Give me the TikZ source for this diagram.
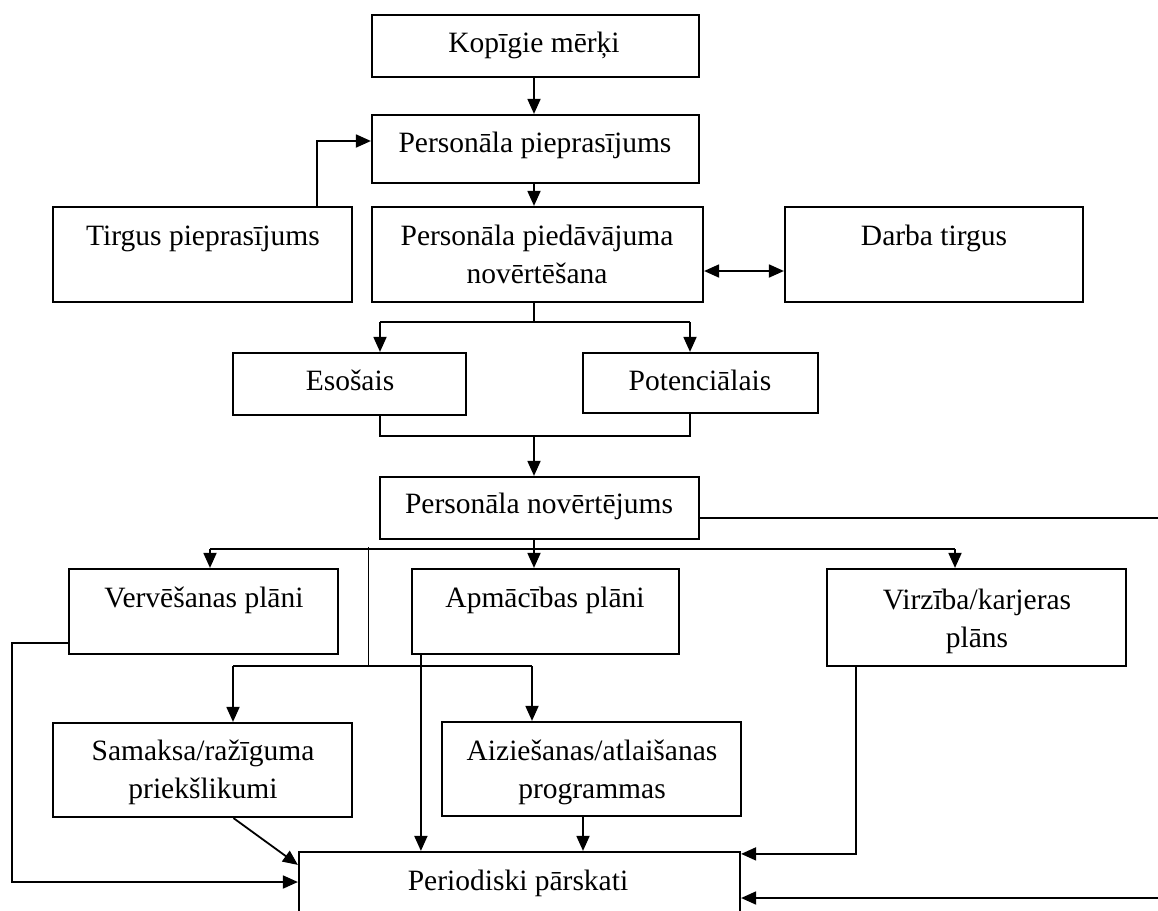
\documentclass[tikz,border=0pt]{standalone}
\usepackage{fontspec}
\setmainfont{Liberation Serif}
\usetikzlibrary{arrows.meta,calc,fit}
\begin{document}
\begin{tikzpicture}[x=1pt,y=-1pt,
  box/.style={draw,line width=2.2pt,inner sep=0pt},
  lbl/.style={font=\fontsize{29.5}{38}\selectfont,align=center,inner sep=0pt,anchor=base},
  con/.style={line width=1.8pt},
  thinline/.style={line width=1pt},
  tip/.tip={Triangle[length=15pt,width=13pt]},
  arr/.style={con,-tip},
  darr/.style={con,tip-tip}]
\useasboundingbox (0,0) rectangle (1158,910);
\clip (0,0) rectangle (1158,910);
\fill[white] (0,0) rectangle (1158,910);

% boxes
\node[box,fit={(372,15) (699,77)}] (kop) {};
\node[box,fit={(372,115) (699,183)}] (pp) {};
\node[box,fit={(53,207) (352,302)}] (tp) {};
\node[box,fit={(372,207) (703,302)}] (ppn) {};
\node[box,fit={(785,207) (1083,302)}] (dt) {};
\node[box,fit={(233,353) (466,415)}] (eso) {};
\node[box,fit={(583,353) (818,413)}] (pot) {};
\node[box,fit={(380,477) (699,539)}] (pn) {};
\node[box,fit={(69,569) (338,654)}] (verv) {};
\node[box,fit={(412,569) (679,654)}] (apm) {};
\node[box,fit={(827,569) (1126,666)}] (virz) {};
\node[box,fit={(53,723) (352,817)}] (sam) {};
\node[box,fit={(442,722) (741,816)}] (aiz) {};
\node[box,fit={(299,852) (740,960)}] (per) {};

% labels (anchor=base: baseline of the last line)
\node[lbl] (kopT) at (534,52) {Kopīgie mērķi};
\node[lbl] (ppT) at (535,152) {Personāla pieprasījums};
\node[lbl] (tpT) at (203,245) {Tirgus pieprasījums};
\node[lbl] (ppnT) at (537,283) {Personāla piedāvājuma\\novērtēšana};
\node[lbl] (dtT) at (934,245) {Darba tirgus};
\node[lbl] (esoT) at (350,390) {Esošais};
\node[lbl] (potT) at (700,390) {Potenciālais};
\node[lbl] (pnT) at (539,513) {Personāla novērtējums};
\node[lbl] (vervT) at (204,607) {Vervēšanas plāni};
\node[lbl] (apmT) at (545,607) {Apmācības plāni};
\node[lbl] (virzT) at (977,647) {Virzība/karjeras\\plāns};
\node[lbl] (samT) at (203,798) {Samaksa/ražīguma\\priekšlikumi};
\node[lbl] (aizT) at (592,798) {Aiziešanas/atlaišanas\\programmas};
\node[lbl] (perT) at (518,890) {Periodiski pārskati};

% connectors
\coordinate (c0) at (534,0);
\draw[arr] (c0 |- kop.south) -- (c0 |- pp.north);
\draw[arr] (c0 |- pp.south) -- (c0 |- ppn.north);
\coordinate (t0) at ($(tp.north east)+(-36,0)$);
\draw[arr] (t0) |- ($(pp.west)+(0,-8)$);
\draw[darr] ($(ppn.east)+(0,16.5)$) -- ($(dt.west)+(0,16.5)$);

\coordinate (s1) at (534,322);
\coordinate (s1l) at (380,322);
\coordinate (s1r) at (690,322);
\draw[con] (s1 |- ppn.south) -- (s1);
\draw[con] (s1l) -- (s1r);
\draw[arr] (s1l) -- (s1l |- eso.north);
\draw[arr] (s1r) -- (s1r |- pot.north);

\coordinate (j1) at (534,436);
\coordinate (j1l) at (380,436);
\coordinate (j1r) at (690,436);
\draw[con] (j1l |- pot.south) -- (j1l) -- (j1r) -- (j1r |- pot.south);
\draw[arr] (j1) -- (j1 |- pn.north);

\coordinate (e1) at (1158,518);
\draw[con] (pn.east |- e1) -- (e1);

\coordinate (s2) at (534,549);
\coordinate (s2l) at (210,549);
\coordinate (s2r) at (955,549);
\draw[con] (s2 |- pn.south) -- (s2);
\draw[con] (s2l) -- (s2r);
\draw[arr] (s2l) -- (s2l |- verv.north);
\draw[arr] (s2) -- (s2 |- apm.north);
\draw[arr] (s2r) -- (s2r |- virz.north);

\coordinate (u1) at (368,547);
\coordinate (u2) at (368,666);
\coordinate (u2l) at (233,666);
\coordinate (u2r) at (532,666);
\draw[thinline] (u1) -- (u2);
\draw[con] (u2l) -- (u2r);
\draw[arr] (u2l) -- (u2l |- sam.north);
\draw[arr] (u2r) -- (u2r |- aiz.north);

\coordinate (v0) at ($(verv.west)+(0,31.5)$);
\coordinate (v1) at (12,643);
\coordinate (v2) at (12,882);
\draw[arr] (v0) -- (v1) -- (v2) -- (v2 -| per.west);

\coordinate (a1) at ($(apm.south west)+(10,0)$);
\draw[arr] (a1) -- (a1 |- per.north);

\coordinate (m1) at ($(sam.south)+(31,0)$);
\draw[arr] (m1) -- ($(per.north west)+(0,14)$);

\coordinate (a2) at ($(aiz.south)+(-8.5,0)$);
\draw[arr] (a2) -- (a2 |- per.north);

\coordinate (z1) at ($(virz.south west)+(30,0)$);
\draw[arr] (z1) |- ($(per.north east)+(0,3)$);

\coordinate (e2) at (1158,898);
\draw[arr] (e2) -- (e2 -| per.east);
\end{tikzpicture}
\end{document}
